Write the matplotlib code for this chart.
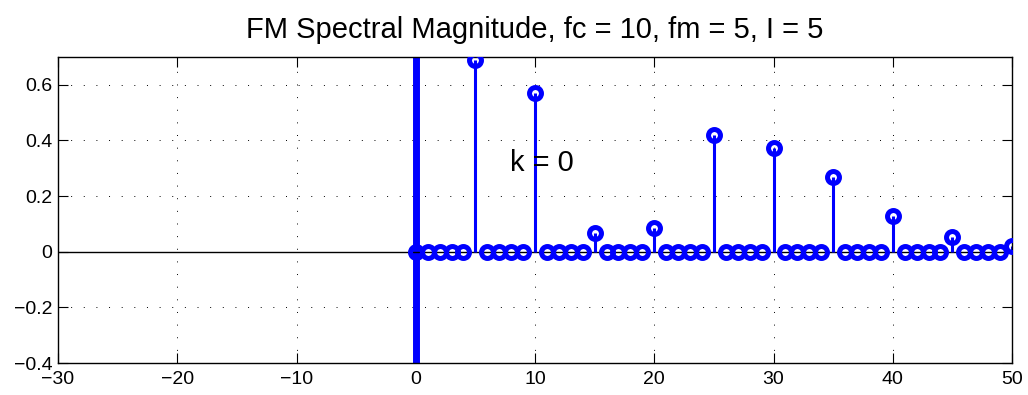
import numpy as np
import matplotlib.pyplot as plt

plt.rcParams['font.family'] = ['Liberation Sans', 'DejaVu Sans']

# spectral lines (k = 0..50)
k = list(range(0, 51))
mag = [0.0, 0, 0, 0, 0, 0.69, 0, 0, 0, 0,
       0.57, 0, 0, 0, 0, 0.068, 0, 0, 0, 0,
       0.086, 0, 0, 0, 0, 0.42, 0, 0, 0, 0,
       0.373, 0, 0, 0, 0, 0.267, 0, 0, 0, 0,
       0.129, 0, 0, 0, 0, 0.053, 0, 0, 0, 0,
       0.019]
xticks = [-30, -20, -10, 0, 10, 20, 30, 40, 50]
yticks = [-0.4, -0.2, 0, 0.2, 0.4, 0.6]

fig = plt.figure(figsize=(10.28, 3.95), dpi=100)
ax = fig.add_axes([58 / 1028, 1 - 363 / 395, 954 / 1028, 306 / 395])

ax.axvline(0, color='#0000ff', lw=5, zorder=2)
ax.axhline(0, color='black', lw=1, zorder=2)
ml, sl, bl = ax.stem(k, mag, basefmt=' ')
plt.setp(sl, color='#0000ff', lw=2.2)
plt.setp(ml, color='#0000ff', marker='o', markersize=8.6,
         markerfacecolor='none', markeredgewidth=3.6, zorder=3)

ax.text(7.9, 0.32, 'k = 0', fontsize=21, ha='left', va='center')

ax.set_xlim(-30, 50)
ax.set_ylim(-0.4, 0.7)
ax.set_xticks(xticks)
ax.set_yticks(yticks)
ax.set_xticklabels(['\u221230', '\u221220', '\u221210', '0', '10', '20', '30', '40', '50'])
ax.set_yticklabels(['\u22120.4', '\u22120.2', '0', '0.2', '0.4', '0.6'])
ax.tick_params(direction='in', labelsize=14, length=7, top=True, right=True)
ax.tick_params(axis='x', pad=6)
ax.tick_params(axis='y', pad=4)
ax.grid(True, linestyle=(0, (1, 12)), color='black', lw=0.7)
for s in ax.spines.values():
    s.set_linewidth(1)
ax.set_title('FM Spectral Magnitude, fc = 10, fm = 5, I = 5', fontsize=21, pad=14)

fig.savefig('out.png', dpi=100)
